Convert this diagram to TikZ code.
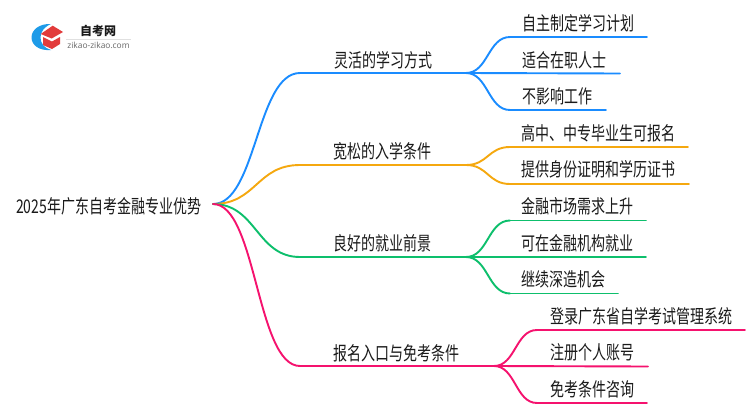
\documentclass[tikz,border=0pt]{standalone}
\usepackage{graphicx}
\usepackage{fontspec}
\setmainfont{Noto Sans CJK SC}
\newfontfamily\latinf{Open Sans}
\definecolor{cblue}{HTML}{1A8CFF}
\definecolor{corange}{HTML}{F5A80F}
\definecolor{cgreen}{HTML}{0DBF6C}
\definecolor{cpink}{HTML}{F5126E}
\definecolor{ink}{HTML}{1A1A1A}
\definecolor{logoblue}{HTML}{1E9BE8}
\definecolor{logored}{HTML}{E23B3B}
\newcommand{\tallt}[1]{\scalebox{1}[1.35]{#1}}
\tikzset{
 lbl/.style={anchor=base west,inner sep=0pt,font=\fontsize{14}{16}\selectfont,text=ink},
 conn/.style={line width=1.9pt,line cap=round},
}
\newcommand{\bez}[3]{% color, from, to
 \draw[conn,#1] (#2) .. controls ($(#2)!0.5!(#3|-#2)$) and ($(#2|-#3)!0.5!(#3)$) .. (#3);}
\usetikzlibrary{calc}
\begin{document}
\begin{tikzpicture}[x=1pt,y=-1pt]
\useasboundingbox (0,0) rectangle (750,410);
\fill[white] (0,0) rectangle (750,410);
% logo
\fill[logoblue] (51,24) .. controls (39,23.5) and (31.5,30) .. (31.5,37.5) .. controls (31.5,45) and (39,51) .. (51,50) .. controls (44,48) and (40.5,43) .. (40.5,37.5) .. controls (40.5,32) and (44,27) .. (51,24) -- cycle;
\fill[logored] (52.7,25.7) -- (63,32) -- (51.7,38.5) -- (40.7,34) -- cycle;
\fill[logored] (43,37) -- (52,41.5) -- (60,37) -- (60,44) -- (52,49) -- (43,45) -- cycle;
\node[inner sep=0pt,font=\fontsize{12}{14}\bfseries\selectfont,text=ink] (logotitle) at (98,31) {自考网};
\draw[black!12,line width=0.6pt] (66,39) -- (131,39);
\node[inner sep=0pt,font=\latinf\fontsize{8.4}{9}\selectfont,text=black!60] (logourl) at (98.5,45) {zikao-zikao.com};
% root
\node[lbl] (root) at (16,213) {\tallt{2025年广东自考金融专业优势}};
\coordinate (r) at (213,204);
% branch junctions
\coordinate (a0) at (300,73);  \coordinate (a1) at (466,73);
\coordinate (b0) at (300,165); \coordinate (b1) at (466,165);
\coordinate (c0) at (300,257); \coordinate (c1) at (466,257);
\coordinate (d0) at (300,366); \coordinate (d1) at (494,366);
% leaf line ends
\coordinate (a1s) at (510,37);  \coordinate (a1e) at (647,37);
\coordinate (a2e) at (620,73.5);
\coordinate (a3s) at (510,110); \coordinate (a3e) at (606,110);
\coordinate (b1s) at (510,147); \coordinate (b1e) at (688,147);
\coordinate (b2s) at (510,184); \coordinate (b2e) at (689,184);
\coordinate (c1s) at (510,220.5);\coordinate (c1e) at (646,220.5);
\coordinate (c2e) at (646,257);
\coordinate (c3s) at (510,293.5);\coordinate (c3e) at (618,293.5);
\coordinate (d1s) at (537,330); \coordinate (d1e) at (745,330);
\coordinate (d2e) at (648,366.5);
\coordinate (d3s) at (537,403); \coordinate (d3e) at (647,403);
% blue
\bez{cblue}{r}{a0} \draw[conn,cblue] (a0) -- (a1);
\bez{cblue}{a1}{a1s} \draw[conn,cblue] (a1s) -- (a1e);
\draw[conn,cblue] (a1) -- (a2e);
\bez{cblue}{a1}{a3s} \draw[conn,cblue] (a3s) -- (a3e);
% orange
\bez{corange}{r}{b0} \draw[conn,corange] (b0) -- (b1);
\bez{corange}{b1}{b1s} \draw[conn,corange] (b1s) -- (b1e);
\bez{corange}{b1}{b2s} \draw[conn,corange] (b2s) -- (b2e);
% green
\bez{cgreen}{r}{c0} \draw[conn,cgreen] (c0) -- (c1);
\bez{cgreen}{c1}{c1s} \draw[conn,cgreen] (c1s) -- (c1e);
\draw[conn,cgreen] (c1) -- (c2e);
\bez{cgreen}{c1}{c3s} \draw[conn,cgreen] (c3s) -- (c3e);
% pink
\bez{cpink}{r}{d0} \draw[conn,cpink] (d0) -- (d1);
\bez{cpink}{d1}{d1s} \draw[conn,cpink] (d1s) -- (d1e);
\draw[conn,cpink] (d1) -- (d2e);
\bez{cpink}{d1}{d3s} \draw[conn,cpink] (d3s) -- (d3e);
% labels
\node[lbl] (la) at (334,67.5) {\tallt{灵活的学习方式}};
\node[lbl] (lb) at (333,158.5) {\tallt{宽松的入学条件}};
\node[lbl] (lc) at (333,250.5) {\tallt{良好的就业前景}};
\node[lbl] (ld) at (333,360.5) {\tallt{报名入口与免考条件}};
\node[lbl] (a1t) at (522,30.5) {\tallt{自主制定学习计划}};
\node[lbl] (a2t) at (522,67.5) {\tallt{适合在职人士}};
\node[lbl] (a3t) at (522,103.5) {\tallt{不影响工作}};
\node[lbl] (b1t) at (521,140.5) {\tallt{高中、中专毕业生可报名}};
\node[lbl] (b2t) at (521,176.5) {\tallt{提供身份证明和学历证书}};
\node[lbl] (c1t) at (521,213.5) {\tallt{金融市场需求上升}};
\node[lbl] (c2t) at (521,250.5) {\tallt{可在金融机构就业}};
\node[lbl] (c3t) at (521,286.5) {\tallt{继续深造机会}};
\node[lbl] (d1t) at (550,323.5) {\tallt{登录广东省自学考试管理系统}};
\node[lbl] (d2t) at (550,359.5) {\tallt{注册个人账号}};
\node[lbl] (d3t) at (550,396.5) {\tallt{免考条件咨询}};
\end{tikzpicture}
\end{document}
